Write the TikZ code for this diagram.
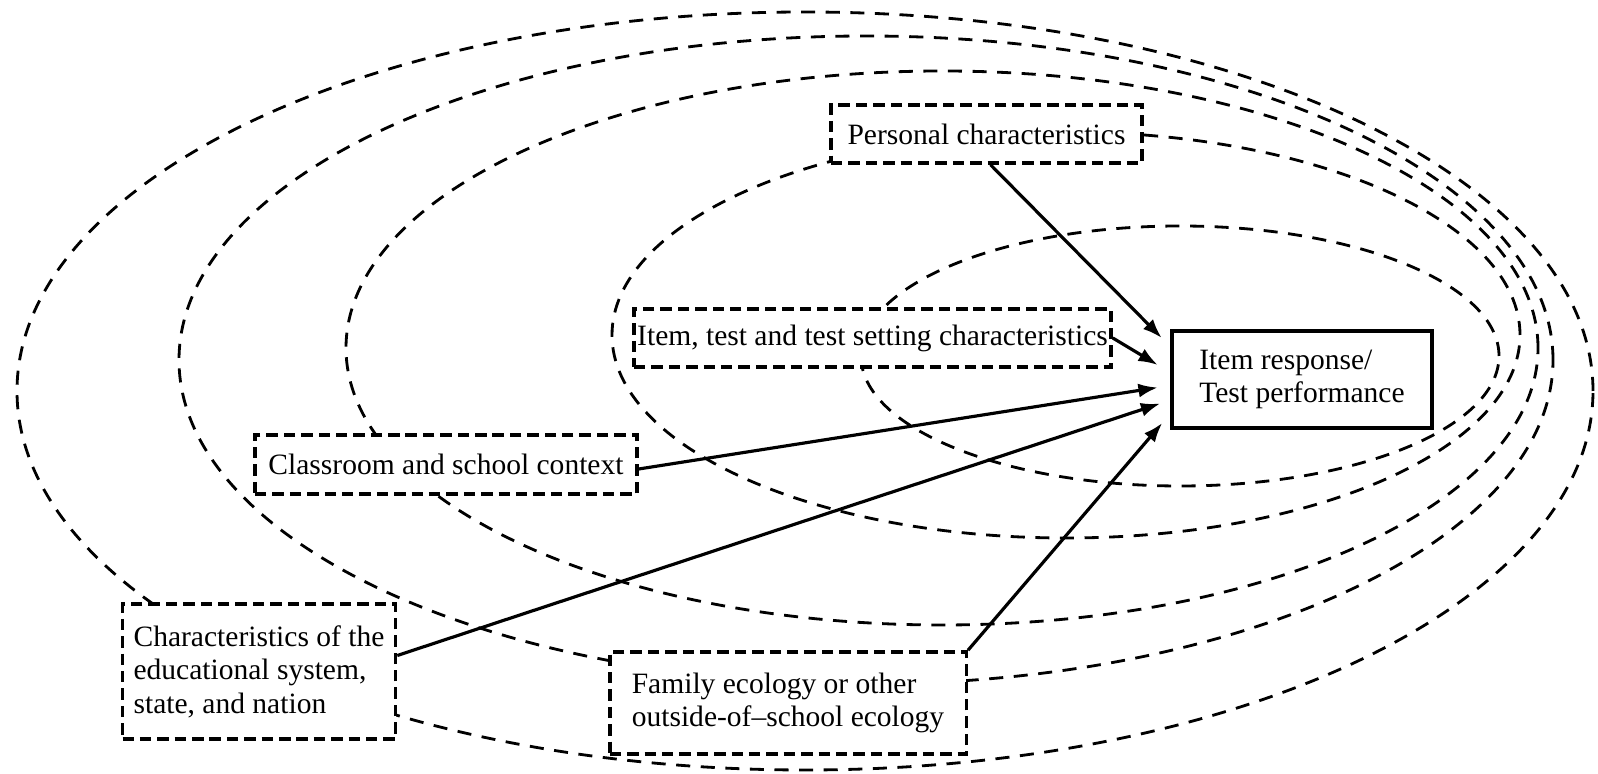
\documentclass[tikz,border=0pt]{standalone}
\usepackage{fontspec}
\setmainfont{Liberation Serif}
\usetikzlibrary{arrows.meta, positioning, calc}

\begin{document}
\begin{tikzpicture}[
  ring/.style={dash pattern=on 8pt off 6pt, line width=1.6pt},
  factor/.style={rectangle, draw, dash pattern=on 6.5pt off 3.4pt, line width=2pt, fill=white, inner sep=1pt, align=left, font=\fontsize{16.8}{19}\selectfont},
  result/.style={rectangle, draw, line width=2pt, fill=white, align=left, font=\fontsize{16.8}{19}\selectfont},
  link/.style={-{Latex[length=11pt,width=8pt]}, line width=1.8pt}
]
\useasboundingbox (0,0) rectangle (31.96,15.48);

% Nested contexts, outermost first
\draw[ring] (16.10,7.66) ellipse (15.76 and 7.58);
\draw[ring] (17.32,8.28) ellipse (13.74 and 6.48);
\draw[ring] (18.84,8.52) ellipse (11.92 and 5.54);
\draw[ring] (21.32,8.78) ellipse (9.08 and 4.06);
\draw[ring] (23.60,8.36) ellipse (6.38 and 2.60);

% Outcome
\node[result, minimum width=5.2cm, minimum height=1.94cm] (resp) at (26.04,7.89) {Item response/\\Test performance};

% Influences
\node[factor, minimum width=6.22cm, minimum height=1.16cm] (pers) at (19.73,12.80) {Personal characteristics};
\node[factor, minimum width=9.54cm, minimum height=1.16cm] (item) at (17.45,8.72) {Item, test and test setting characteristics};
\node[factor, minimum width=7.64cm, minimum height=1.18cm] (class) at (8.92,6.19) {Classroom and school context};
\node[factor, minimum width=5.46cm, minimum height=2.70cm] (sys) at (5.18,2.05) {Characteristics of the\\educational system,\\state, and nation};
\node[factor, minimum width=7.13cm, minimum height=2.04cm] (fam) at (15.76,1.42) {Family ecology or other\\outside-of--school ecology};

% Arrow ends in front of the outcome box
\coordinate (inPers) at ($(resp.west)+(-0.17,0.83)$);
\coordinate (inItem) at ($(resp.west)+(-0.25,0.29)$);
\coordinate (inClass) at ($(resp.west)+(-0.25,-0.16)$);
\coordinate (inSys) at ($(resp.west)+(-0.20,-0.48)$);
\coordinate (inFam) at ($(resp.west)+(-0.16,-0.87)$);

\draw[link] ([xshift=0.08cm]pers.south) -- (inPers);
\draw[link] (item.east) -- (inItem);
\draw[link] ([yshift=-0.09cm]class.east) -- (inClass);
\draw[link] ([yshift=0.32cm]sys.east) -- (inSys);
\draw[link] (fam.north east) -- (inFam);
\end{tikzpicture}
\end{document}
